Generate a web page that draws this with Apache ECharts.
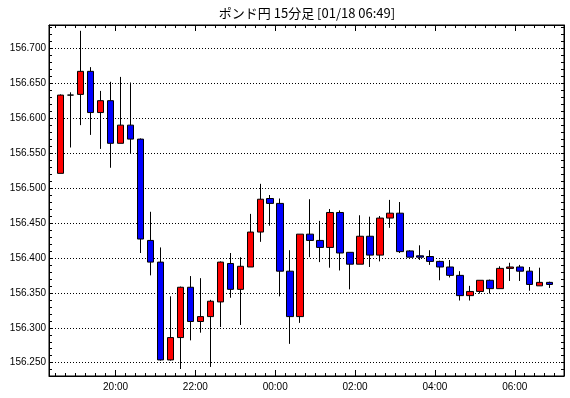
<!DOCTYPE html>
<html>
<head>
<meta charset="utf-8">
<script src="https://cdn.jsdelivr.net/npm/echarts@6/dist/echarts.min.js"></script>
<style>
html, body { margin: 0; padding: 0; background: #fff; }
#chart { width: 570px; height: 398px; }
</style>
</head>
<body>
<div id="chart"></div>
<script>
const title = 'ポンド円 15分足 [01/18 06:49]';

// 15分足の開始時刻
const times = [
  '18:30', '18:45', '19:00', '19:15', '19:30', '19:45', '20:00', '20:15', '20:30', '20:45',
  '21:00', '21:15', '21:30', '21:45', '22:00', '22:15', '22:30', '22:45', '23:00', '23:15',
  '23:30', '23:45', '00:00', '00:15', '00:30', '00:45', '01:00', '01:15', '01:30', '01:45',
  '02:00', '02:15', '02:30', '02:45', '03:00', '03:15', '03:30', '03:45', '04:00', '04:15',
  '04:30', '04:45', '05:00', '05:15', '05:30', '05:45', '06:00', '06:15', '06:30', '06:45'
];
const opens = [
  156.521, 156.633, 156.634, 156.667, 156.608, 156.625, 156.564, 156.590, 156.570, 156.425,
  156.394, 156.254, 156.286, 156.358, 156.309, 156.316, 156.337, 156.392, 156.355, 156.387,
  156.437, 156.485, 156.478, 156.381, 156.316, 156.434, 156.425, 156.415, 156.465, 156.408,
  156.391, 156.431, 156.404, 156.457, 156.464, 156.410, 156.403, 156.402, 156.395, 156.387,
  156.375, 156.346, 156.352, 156.368, 156.356, 156.385, 156.387, 156.381, 156.360, 156.365
];
const closes = [
  156.633, 156.633, 156.667, 156.608, 156.625, 156.564, 156.590, 156.570, 156.427, 156.394,
  156.254, 156.286, 156.358, 156.309, 156.316, 156.338, 156.394, 156.355, 156.388, 156.437,
  156.484, 156.478, 156.381, 156.316, 156.434, 156.425, 156.415, 156.465, 156.407, 156.391,
  156.431, 156.404, 156.457, 156.464, 156.409, 156.401, 156.401, 156.395, 156.387, 156.375,
  156.346, 156.352, 156.368, 156.356, 156.385, 156.387, 156.381, 156.362, 156.365, 156.362
];
const lows = [
  156.521, 156.558, 156.590, 156.576, 156.556, 156.529, 156.564, 156.550, 156.407, 156.375,
  156.253, 156.253, 156.241, 156.282, 156.293, 156.244, 156.301, 156.343, 156.304, 156.387,
  156.423, 156.446, 156.345, 156.277, 156.307, 156.401, 156.394, 156.386, 156.382, 156.355,
  156.391, 156.387, 156.395, 156.443, 156.407, 156.401, 156.397, 156.390, 156.368, 156.372,
  156.339, 156.339, 156.349, 156.349, 156.356, 156.367, 156.367, 156.353, 156.360, 156.357
];
const highs = [
  156.634, 156.637, 156.725, 156.673, 156.639, 156.652, 156.659, 156.651, 156.571, 156.466,
  156.415, 156.345, 156.359, 156.374, 156.371, 156.340, 156.395, 156.407, 156.401, 156.463,
  156.506, 156.490, 156.485, 156.411, 156.434, 156.484, 156.453, 156.470, 156.468, 156.408,
  156.461, 156.459, 156.460, 156.483, 156.480, 156.411, 156.418, 156.411, 156.396, 156.397,
  156.381, 156.360, 156.368, 156.369, 156.388, 156.393, 156.390, 156.387, 156.386, 156.366
];

// x軸は18:00起点、2時間単位
function toAxisX(t) {
  const [h, m] = t.split(':').map(Number);
  let mins = (h - 18) * 60 + m;
  if (mins < 0) mins += 1440;
  return (mins + 7.5) / 120;
}
function hourLabel(v) {
  const h = (18 + v * 2) % 24;
  return (h < 10 ? '0' : '') + h + ':00';
}

const candles = times.map((t, i) => [toAxisX(t), opens[i], closes[i], lows[i], highs[i]]);

const xMin = 20 / 120;
const xMax = 794 / 120;
const yMin = 156.231;
const yMax = 156.7333;
const labelFont = { fontFamily: '"Liberation Sans", Arial, sans-serif', fontSize: 10, color: '#000' };

function xAxisDef(pos, showLabel) {
  return {
    type: 'value',
    position: pos,
    min: xMin,
    max: xMax,
    splitNumber: 6,
    axisLine: { show: true, onZero: false, lineStyle: { color: '#000', width: 1 } },
    axisTick: { show: true, inside: true, length: 6, lineStyle: { color: '#000' } },
    minorTick: { show: true, splitNumber: 8, length: 3, lineStyle: { color: '#000' } },
    splitLine: { show: false },
    axisLabel: Object.assign({
      show: showLabel,
      margin: 6,
      showMinLabel: false,
      showMaxLabel: false,
      formatter: v => Number.isInteger(Math.round(v * 1000) / 1000) ? hourLabel(Math.round(v)) : ''
    }, labelFont)
  };
}
function yAxisDef(pos, main) {
  return {
    type: 'value',
    position: pos,
    min: yMin,
    max: yMax,
    splitNumber: 10,
    axisLine: { show: true, onZero: false, lineStyle: { color: '#000', width: 1 } },
    axisTick: { show: true, inside: true, length: 3, lineStyle: { color: '#000' } },
    minorTick: { show: true, splitNumber: 5, length: 3, lineStyle: { color: '#000' } },
    splitLine: { show: main, lineStyle: { color: '#000', type: [1, 2], width: 1 } },
    axisLabel: Object.assign({
      show: main,
      margin: 3,
      showMinLabel: false,
      showMaxLabel: false,
      formatter: v => v.toFixed(3)
    }, labelFont)
  };
}

const chart = echarts.init(document.getElementById('chart'), null, { renderer: 'canvas' });
chart.setOption({
  animation: false,
  backgroundColor: '#fff',
  graphic: [{
    type: 'text',
    x: 307,
    y: 13,
    style: {
      text: title,
      textAlign: 'center',
      textVerticalAlign: 'middle',
      fill: '#000',
      font: '13px "Noto Sans CJK JP", sans-serif'
    }
  }],
  grid: {
    left: 49,
    top: 25,
    width: 515,
    height: 351,
    show: true,
    borderColor: '#000',
    borderWidth: 1,
    backgroundColor: '#fff'
  },
  xAxis: [xAxisDef('bottom', true), xAxisDef('top', false)],
  yAxis: [yAxisDef('left', true), yAxisDef('right', false)],
  series: [{
    type: 'candlestick',
    xAxisIndex: 0,
    yAxisIndex: 0,
    encode: { x: 0, y: [1, 2, 3, 4] },
    barWidth: 7,
    itemStyle: {
      color: '#ff0000',
      color0: '#0000ff',
      borderColor: '#000',
      borderColor0: '#000',
      borderColorDoji: '#000',
      borderWidth: 1
    },
    data: candles
  }]
});
</script>
</body>
</html>
